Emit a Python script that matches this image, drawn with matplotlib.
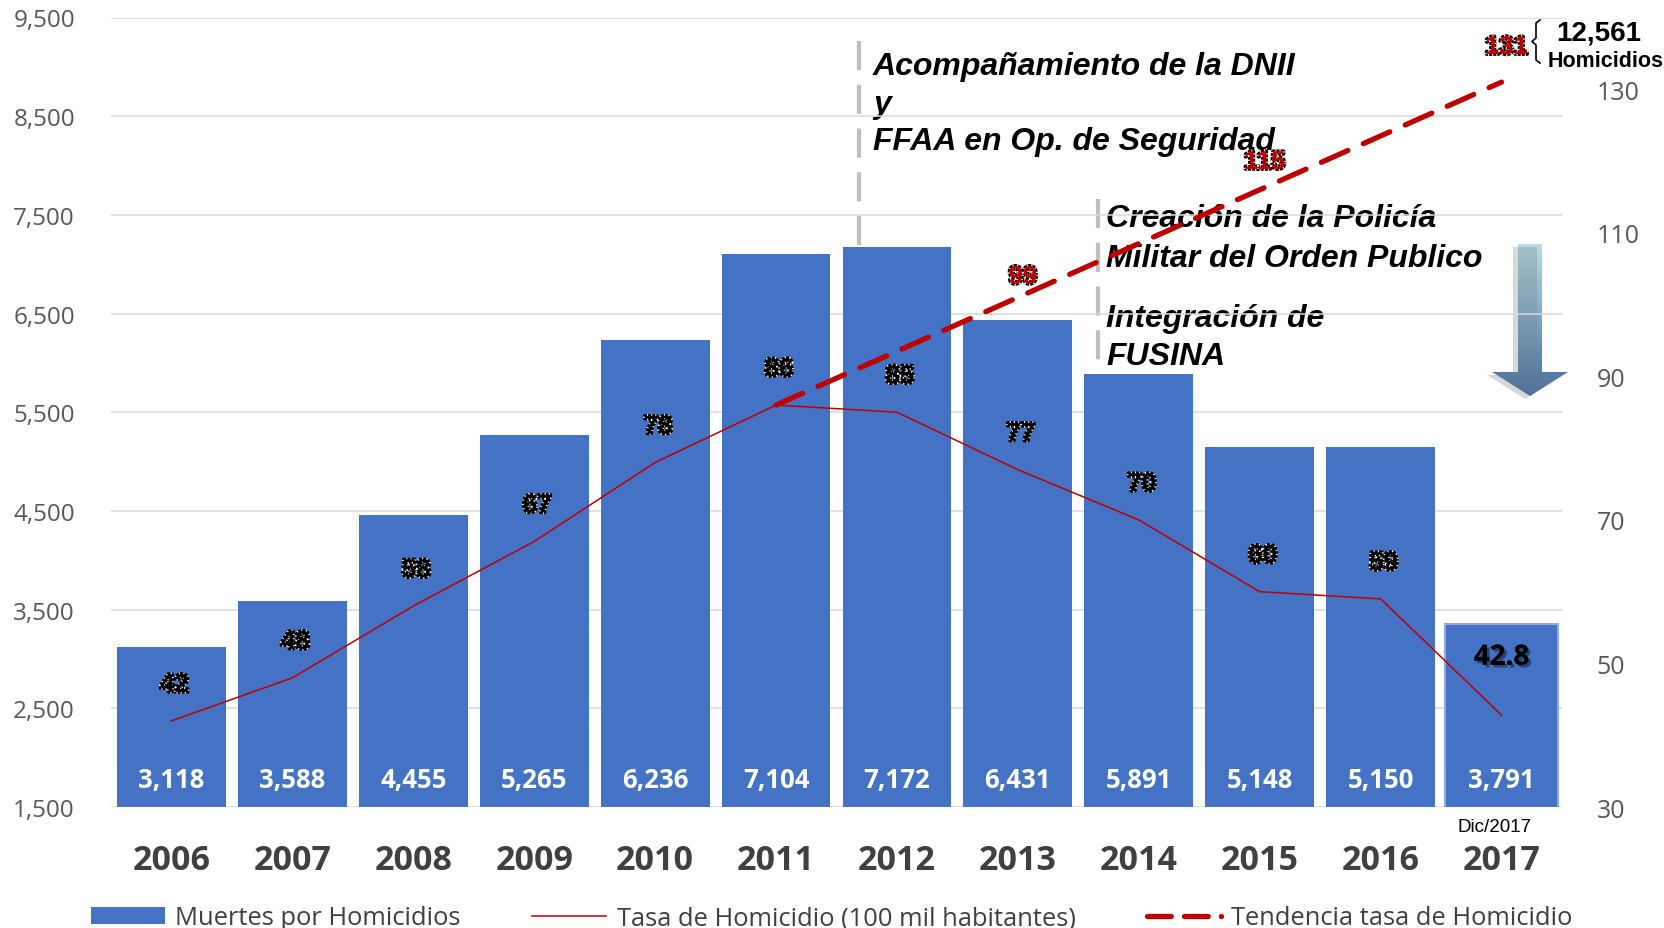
import numpy as np
import matplotlib
matplotlib.use("Agg")
import matplotlib.pyplot as plt
import matplotlib.patheffects as pe
from matplotlib.patches import Polygon
from matplotlib.lines import Line2D
from matplotlib.patches import Patch

# ---------- datos ----------
anios = ["2006", "2007", "2008", "2009", "2010", "2011",
         "2012", "2013", "2014", "2015", "2016", "2017"]
muertes = [3118, 3588, 4455, 5265, 6236, 7104, 7172, 6431, 5891, 5148, 5150, 3791]
# la barra de 2017 esta dibujada mas baja que su etiqueta en la lamina original
altura_barras = [3118, 3588, 4455, 5265, 6236, 7104, 7172, 6431, 5891, 5148, 5150, 3350]
tasa = [42, 48, 58, 67, 78, 86, 85, 77, 70, 60, 59, 42.8]
tasa_labels = ["42", "48", "58", "67", "78", "86", "85", "77", "70", "60", "59", "42.8"]
tendencia_idx = [5, 11]
tendencia = [86, 131]
tend_label_idx = [7, 9, 11]
tend_label_val = [99, 115, 131]

left_ticks = [1500, 2500, 3500, 4500, 5500, 6500, 7500, 8500, 9500]
right_ticks = [30, 50, 70, 90, 110, 130]

BLUE = "#4472C4"
RED = "#C00000"
W, H = 1665, 929

fig = plt.figure(figsize=(W / 100, H / 100), dpi=100)
fig.patch.set_facecolor("white")

# capa de anotaciones en pixeles (por debajo del grafico)
ov = fig.add_axes([0, 0, 1, 1], zorder=-1)
ov.set_xlim(0, W)
ov.set_ylim(H, 0)
ov.axis("off")

ax = fig.add_axes([111 / W, 1 - 808 / H, 1451 / W, 789.5 / H])
ax.patch.set_visible(False)
ax2 = ax.twinx()

x = np.arange(len(anios))

# ---------- barras ----------
bars = ax.bar(x, altura_barras, width=0.9, color=BLUE, edgecolor="none", zorder=2)
bars[-1].set_edgecolor("#8FAADC")
bars[-1].set_linewidth(1.5)
bars[-1].set_width(0.93)
bars[-1].set_x(x[-1] - 0.465)

for i, v in enumerate(muertes):
    ax.text(x[i], 1780, f"{v:,}", ha="center", va="center", color="white",
            fontsize=18.5, fontweight="bold", family="Open Sans", zorder=3)

ax.set_ylim(1500, 9500)
ax.set_xlim(-0.5, 11.5)
ax.set_yticks(left_ticks)
ax.set_yticklabels([f"{t:,}" for t in left_ticks])
ax.yaxis.grid(True, color="#D9D9D9", linewidth=1.1, zorder=0)
ax.set_axisbelow(True)
ax.set_xticks(x)
ax.set_xticklabels(anios)
ax.tick_params(axis="y", length=0, pad=26, labelsize=17.5, labelcolor="#595959")
ax.tick_params(axis="x", length=0, pad=26, labelsize=24.5, labelcolor="#404040")
for lab in ax.get_yticklabels():
    lab.set_family("Open Sans")
for lab in ax.get_xticklabels():
    lab.set_family("Open Sans")
    lab.set_fontweight("bold")
for s in ax.spines.values():
    s.set_visible(False)

# ---------- tasa y tendencia ----------
ax2.set_ylim(30, 140)
ax2.set_yticks(right_ticks)
ax2.tick_params(axis="y", length=0, pad=25, labelsize=18, labelcolor="#595959")
for lab in ax2.get_yticklabels():
    lab.set_family("Open Sans")
for s in ax2.spines.values():
    s.set_visible(False)

ax2.plot(x, tasa, color=RED, linewidth=1.1, zorder=3)
ax2.plot(tendencia_idx, tendencia, color=RED, linewidth=3.8, linestyle=(0, (5.5, 3.2)),
         dash_capstyle="round", solid_capstyle="round", zorder=5)

halo = [pe.Stroke(linewidth=2.6, foreground="black"),
        pe.Stroke(linewidth=2.6, foreground="white", dashes={"dash_offset": 0, "dash_list": [0.8, 2.2]}),
        pe.Normal()]

for i, lab in enumerate(tasa_labels):
    if i == len(tasa_labels) - 1:
        ax2.annotate(lab, (x[i], tasa[i]), xytext=(0, 58), textcoords="offset pixels",
                     ha="center", va="center", fontsize=20, fontweight="bold",
                     family="Open Sans", color="black", zorder=6,
                     path_effects=[pe.withSimplePatchShadow(offset=(2, -2), alpha=0.4), pe.Normal()])
    else:
        ax2.annotate(lab, (x[i], tasa[i]), xytext=(3, 36), textcoords="offset pixels",
                     ha="center", va="center", fontsize=18.5, fontweight="bold",
                     family="Liberation Sans", color="black", zorder=6, path_effects=halo)

for i, v in zip(tend_label_idx, tend_label_val):
    ax2.annotate(str(v), (i, v), xytext=(5, 35), textcoords="offset pixels",
                 ha="center", va="center", fontsize=18.5, fontweight="bold",
                 family="Liberation Sans", color=RED, zorder=6, path_effects=halo)

# ---------- anotaciones ----------
ov.plot([859, 859], [42, 250], color="#BFBFBF", linewidth=3, linestyle=(0, (7, 3.5)))
ov.plot([1098, 1098], [200, 366], color="#BFBFBF", linewidth=3, linestyle=(0, (7, 3.5)))

txt = dict(fontsize=23, fontweight="bold", style="italic", family="Liberation Sans",
           color="black", va="baseline", ha="left")
ov.text(873, 75, "Acompañamiento de la DNII", **txt)
ov.text(873, 113, "y", **txt)
ov.text(873, 150, "FFAA en Op. de Seguridad", **txt)
ov.text(1106, 227, "Creación de la Policía", **txt)
ov.text(1106, 267, "Militar del Orden Publico", **txt)
ov.text(1106, 327, "Integración de", **txt)
ov.text(1106, 365, "FUSINA", **txt)

# flecha con degradado
arrow = [(1518, 245), (1542, 245), (1542, 373), (1568, 373), (1530, 397),
         (1492, 373), (1518, 373)]
shadow = Polygon([(px - 5, py + 3) for px, py in arrow], closed=True,
                 facecolor="#7F7F7F", edgecolor="none", alpha=0.3)
ov.add_patch(shadow)
poly = Polygon(arrow, closed=True, facecolor="none", edgecolor="none")
ov.add_patch(poly)
top = np.array([0.72, 0.87, 0.91])
bot = np.array([0.25, 0.42, 0.64])
t = np.linspace(0, 1, 200)[:, None]
grad = (top * (1 - t) + bot * t)[:, None, :]
im = ov.imshow(grad, extent=(1492, 1568, 397, 245), aspect="auto", origin="upper")
im.set_clip_path(poly)
ov.set_xlim(0, W)
ov.set_ylim(H, 0)

# llave y total
brace = [(1540, 21), (1536, 24), (1536, 39), (1532, 42.5), (1536, 46), (1536, 61), (1540, 64)]
ov.plot([p[0] for p in brace], [p[1] for p in brace], color="black", linewidth=1.2)
ax2.text(1599, 33, "12,561", transform=ov.transData, ha="center", va="center",
         fontsize=20, fontweight="bold", family="Liberation Sans", color="black", zorder=7)
ax2.text(1606, 61, "Homicidios", transform=ov.transData, ha="center", va="center",
         fontsize=15.5, fontweight="bold", family="Liberation Sans", color="black", zorder=7)

ax2.text(1495, 828, "Dic/2017", transform=ov.transData, ha="center", va="center",
         fontsize=13.5, family="Liberation Sans", color="black", zorder=7,
         bbox=dict(facecolor="white", edgecolor="none", pad=4))

# ---------- leyenda ----------
handles = [Patch(facecolor=BLUE, edgecolor="none"),
           Line2D([], [], color=RED, linewidth=1.1),
           Line2D([], [], color=RED, linewidth=3.8, linestyle=(0, (4.5, 2.5)), dash_capstyle="round")]
labels = ["Muertes por Homicidios", "Tasa de Homicidio (100 mil habitantes)",
          "Tendencia tasa de Homicidio"]
leg = fig.legend(handles, labels, loc="center left", bbox_to_anchor=(91 / W, 1 - 919 / H),
                 ncol=3, frameon=False, borderpad=0, borderaxespad=0,
                 handlelength=2.9, handleheight=0.65, handletextpad=0.4, columnspacing=2.8,
                 prop={"family": "Open Sans", "size": 18.4})
for t_ in leg.get_texts():
    t_.set_color("#404040")

fig.savefig("out.png", dpi=100)
